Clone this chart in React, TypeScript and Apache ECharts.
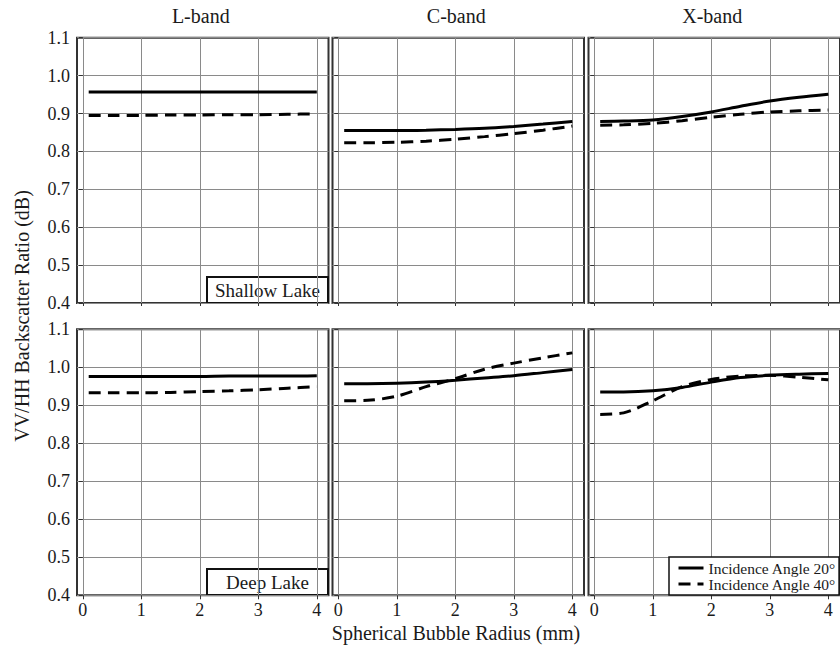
import React, { useEffect, useRef } from 'react';
import * as echarts from 'echarts';

// Bubble radius (mm) at which the ratios were sampled
const radius = [0.1, 0.5, 1, 1.5, 2, 2.5, 3, 3.5, 4];
const xTicks = [0, 1, 2, 3, 4];

const bands = ['L-band', 'C-band', 'X-band'];
const lakes = ['Shallow Lake', 'Deep Lake'];
const angleNames = ['Incidence Angle 20°', 'Incidence Angle 40°'];

// VV/HH backscatter ratio, shallow lake
const shallowL20 = [0.957, 0.957, 0.957, 0.957, 0.957, 0.957, 0.957, 0.957, 0.957];
const shallowL40 = [0.895, 0.895, 0.895, 0.896, 0.896, 0.897, 0.897, 0.898, 0.899];
const shallowC20 = [0.855, 0.855, 0.855, 0.856, 0.858, 0.861, 0.866, 0.872, 0.879];
const shallowC40 = [0.823, 0.823, 0.824, 0.827, 0.832, 0.839, 0.847, 0.856, 0.867];
const shallowX20 = [0.879, 0.880, 0.883, 0.892, 0.904, 0.919, 0.933, 0.943, 0.951];
const shallowX40 = [0.869, 0.870, 0.874, 0.881, 0.890, 0.898, 0.904, 0.907, 0.909];

// VV/HH backscatter ratio, deep lake
const deepL20 = [0.976, 0.976, 0.976, 0.976, 0.976, 0.977, 0.977, 0.977, 0.978];
const deepL40 = [0.933, 0.933, 0.933, 0.934, 0.936, 0.938, 0.941, 0.945, 0.949];
const deepC20 = [0.957, 0.957, 0.958, 0.961, 0.966, 0.972, 0.978, 0.986, 0.994];
const deepC40 = [0.912, 0.913, 0.924, 0.949, 0.970, 0.995, 1.011, 1.025, 1.038];
const deepX20 = [0.935, 0.935, 0.938, 0.947, 0.961, 0.973, 0.979, 0.982, 0.984];
const deepX40 = [0.876, 0.880, 0.912, 0.949, 0.968, 0.977, 0.979, 0.974, 0.967];

// panel order: row (lake) by column (band), each [20°, 40°]
const panels = [
  [shallowL20, shallowL40],
  [shallowC20, shallowC40],
  [shallowX20, shallowX40],
  [deepL20, deepL40],
  [deepC20, deepC40],
  [deepX20, deepX40],
];

const FONT = 'Liberation Serif';
const TEXT = '#1a1a1a';
const FRAME = '#333';
const GRID = '#8a8a8a';

const colLeft = [77, 332.5, 588.5];
const colWidth = 251.5;
const rowTop = [37.7, 329.3];
const rowHeight = [265.3, 266];

export default function App() {
  const ref = useRef<HTMLDivElement>(null);

  useEffect(() => {
    document.body.style.margin = '0';
    if (!ref.current) return;
    const chart = echarts.init(ref.current, undefined, { renderer: 'svg' });

    const grids: any[] = [];
    const xAxes: any[] = [];
    const yAxes: any[] = [];
    const series: any[] = [];

    panels.forEach((pair, i) => {
      const row = Math.floor(i / 3);
      const col = i % 3;
      grids.push({
        left: colLeft[col],
        top: rowTop[row],
        width: colWidth,
        height: rowHeight[row],
        show: true,
        backgroundColor: '#fff',
        borderColor: FRAME,
        borderWidth: 2,
        containLabel: false,
      });
      xAxes.push({
        type: 'value',
        gridIndex: i,
        min: -0.1,
        max: 4.2,
        axisLine: { show: false },
        axisTick: {
          show: true,
          inside: false,
          length: row === 1 ? 4 : 3,
          customValues: xTicks,
          lineStyle: { color: FRAME, width: 1 },
        },
        axisLabel: {
          show: row === 1,
          customValues: xTicks,
          margin: 6,
          fontFamily: FONT,
          fontSize: 18,
          color: TEXT,
          formatter: (v: number) => String(v),
        },
        splitLine: { show: true, lineStyle: { color: GRID, width: 1 } },
      });
      yAxes.push({
        type: 'value',
        gridIndex: i,
        min: 0.4,
        max: 1.1,
        interval: 0.1,
        axisLine: { show: false },
        axisTick: {
          show: true,
          inside: false,
          length: 4,
          lineStyle: { color: FRAME, width: 1 },
        },
        axisLabel: {
          show: col === 0,
          margin: 7,
          fontFamily: FONT,
          fontSize: 18,
          color: TEXT,
          formatter: (v: number) => v.toFixed(1),
        },
        splitLine: { show: true, lineStyle: { color: GRID, width: 1 } },
      });
      pair.forEach((vals, k) => {
        series.push({
          name: angleNames[k],
          type: 'line',
          xAxisIndex: i,
          yAxisIndex: i,
          data: radius.map((r, j) => [r, vals[j]]),
          smooth: 0.3,
          symbol: 'none',
          showSymbol: false,
          silent: true,
          lineStyle: {
            color: '#000',
            width: 3,
            type: k === 0 ? 'solid' : [12, 7],
          },
          itemStyle: { color: '#000' },
          z: 5,
        });
      });
    });

    const lakeBox = (label: string, y: number) => ({
      type: 'group',
      z: 50,
      children: [
        {
          type: 'rect',
          shape: { x: 207, y, width: 121, height: 26 },
          style: { fill: '#fff', stroke: '#111', lineWidth: 2 },
        },
        {
          type: 'text',
          x: 267.5,
          y: y + 13.5,
          style: {
            text: label,
            fontFamily: FONT,
            fontSize: 19,
            fill: TEXT,
            align: 'center',
            verticalAlign: 'middle',
          },
        },
      ],
    });

    const label = (text: string, x: number, y: number, rotation = 0) => ({
      type: 'text',
      x,
      y,
      rotation,
      z: 50,
      style: {
        text,
        fontFamily: FONT,
        fontSize: 20,
        fill: TEXT,
        align: 'center',
        verticalAlign: 'middle',
      },
    });

    const graphic: any[] = [
      ...bands.map((b, c) => label(b, colLeft[c] + colWidth / 2 - 2, 16)),
      label('VV/HH Backscatter Ratio (dB)', 22, 316, Math.PI / 2),
      label('Spherical Bubble Radius (mm)', 456, 633),
      lakeBox(lakes[0], 277),
      lakeBox(lakes[1], 569),
    ];

    chart.setOption({
      animation: false,
      backgroundColor: '#fff',
      grid: grids,
      xAxis: xAxes,
      yAxis: yAxes,
      series,
      legend: {
        data: angleNames,
        orient: 'vertical',
        left: 669,
        top: 557,
        itemWidth: 25,
        itemHeight: 10,
        itemGap: 0,
        padding: [3, 3, 3, 8],
        backgroundColor: '#fff',
        borderColor: '#111',
        borderWidth: 1.5,
        selectedMode: false,
        itemStyle: { opacity: 0 },
        lineStyle: { width: 3 },
        textStyle: { fontFamily: FONT, fontSize: 15.5, color: TEXT, lineHeight: 13 },
        z: 60,
      },
      graphic,
    });

    return () => chart.dispose();
  }, []);

  return <div ref={ref} style={{ width: 840, height: 648 }} />;
}
